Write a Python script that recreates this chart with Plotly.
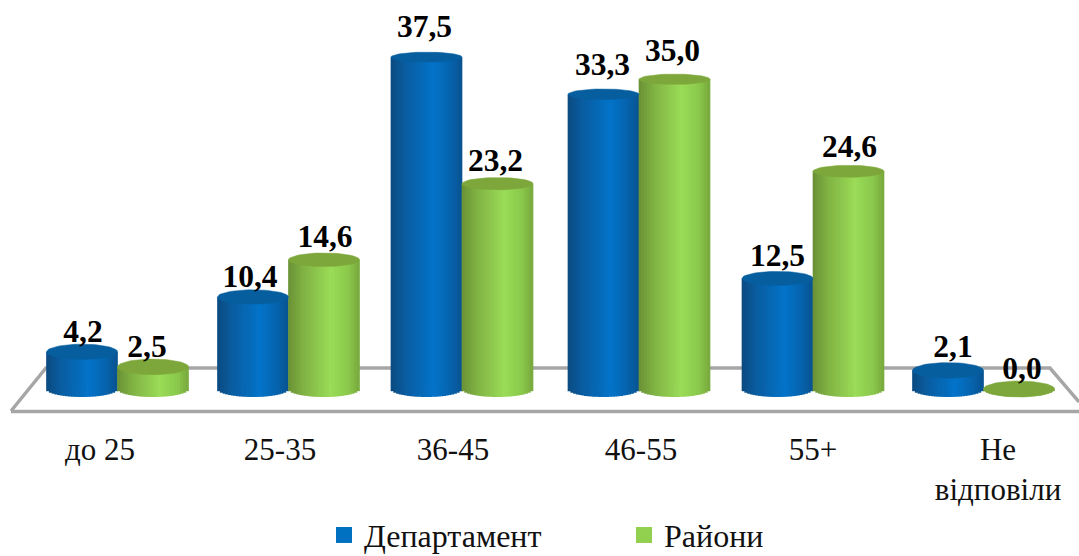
import math
import plotly.graph_objects as go

categories = ["до 25", "25-35", "36-45", "46-55", "55+", "Не<br>відповіли"]
dept_values = [4.2, 10.4, 37.5, 33.3, 12.5, 2.1]
rayon_values = [2.5, 14.6, 23.2, 35.0, 24.6, 0.0]
dept_labels = ["4,2", "10,4", "37,5", "33,3", "12,5", "2,1"]
rayon_labels = ["2,5", "14,6", "23,2", "35,0", "24,6", "0,0"]

W, H = 1079, 556
STEP = 173.4
X0 = 117.5
PX_PER_UNIT = 8.85
BASE_PX = 389
BAR_W = 71 / STEP
x_range = [-X0 / STEP, (W - X0) / STEP]
y_range = [(BASE_PX - H) / PX_PER_UNIT, BASE_PX / PX_PER_UNIT]
tick_positions = [(p - X0) / STEP for p in (100, 280, 453, 641, 813, 998)]
group_positions = [(p - X0) / STEP for p in (117.5, 288.5, 462, 639, 813, 983.5)]
dept_nudge = [-6, -5, 7, 6, -2, -2]
rayon_nudge = [-6, -2, -1, 5, 0, -6]
dept_xnudge = [1, -3, -2, -1, 0, 5]
rayon_xnudge = [-6, 1, -2, -2, 1, 3]

dept_stops = [(0, "#0B4A80"), (0.2, "#0A5C9F"), (0.6, "#0373C9"), (0.85, "#0663AC"), (1, "#0A5391")]
rayon_stops = [(0, "#6A9135"), (0.2, "#7FB042"), (0.6, "#9ADC57"), (0.85, "#8AC84B"), (1, "#78A83E")]
dept_cap = "#075E9E"
rayon_cap = "#7DA73A"


def mix(stops, t):
    for (a, ca), (b, cb) in zip(stops, stops[1:]):
        if t <= b:
            f = (t - a) / (b - a)
            rgb = [round(int(ca[i:i + 2], 16) * (1 - f) + int(cb[i:i + 2], 16) * f) for i in (1, 3, 5)]
            return "rgb(%d,%d,%d)" % tuple(rgb)
    return stops[-1][1]


def ry_units(v):
    return (8 - 0.08 * v) / PX_PER_UNIT


fig = go.Figure()
N = 26


def add_series(name, values, shift, stops, cap, base_color):
    xc = [p + shift for p in group_positions]
    fig.add_trace(go.Bar(x=xc, y=values, width=BAR_W * 0.98, name=name, marker_color=base_color,
                         showlegend=False, hoverinfo="skip"))
    sw = BAR_W / N
    for k in range(N):
        t = (k + 0.5) / N
        u = 2 * t - 1
        depth = 8 / PX_PER_UNIT * math.sqrt(max(0, 1 - u * u))
        fig.add_trace(go.Bar(
            x=[c + u * BAR_W / 2 for c in xc],
            y=[v + depth for v in values],
            base=[-depth] * len(values),
            width=sw * 1.25,
            marker=dict(color=mix(stops, t), line=dict(width=0)),
            showlegend=False, hoverinfo="skip"))
    for c, v in zip(xc, values):
        ang = [2 * math.pi * a / 60 for a in range(61)]
        fig.add_trace(go.Scatter(
            x=[c + BAR_W / 2 * math.cos(a) for a in ang],
            y=[v + ry_units(v) * math.sin(a) for a in ang],
            mode="lines", fill="toself", fillcolor=cap, line=dict(color=cap, width=0.5),
            showlegend=False, hoverinfo="skip"))
    return xc


dept_x = add_series("Департамент", dept_values, -BAR_W / 2, dept_stops, dept_cap, "#0070C0")
rayon_x = add_series("Райони", rayon_values, BAR_W / 2, rayon_stops, rayon_cap, "#92D050")

for xs, vals, labs, nudge, xnudge in ((dept_x, dept_values, dept_labels, dept_nudge, dept_xnudge),
                                      (rayon_x, rayon_values, rayon_labels, rayon_nudge, rayon_xnudge)):
    fig.add_trace(go.Scatter(
        x=[x + d / STEP for x, d in zip(xs, xnudge)],
        y=[v + ry_units(v) + n / PX_PER_UNIT for v, n in zip(vals, nudge)],
        text=labs, mode="text", textposition="top center",
        textfont=dict(family="Liberation Serif", size=31.5, color="#000000", weight="bold"),
        showlegend=False, hoverinfo="skip"))

fig.add_trace(go.Scatter(x=[None], y=[None], mode="markers", name="Департамент",
                         marker=dict(symbol="square", size=16, color="#0070C0")))
fig.add_trace(go.Scatter(x=[None], y=[None], mode="markers", name="Райони",
                         marker=dict(symbol="square", size=16, color="#92D050")))


def px(x, y):
    return "%.4f %.4f" % (x / W, 1 - y / H)


floor = "M " + px(11, 411) + " L " + px(46, 368) + " L " + px(1050, 368) + " L " + px(1079, 402)
front = "M " + px(11, 411.5) + " L " + px(1079, 411.5)
line_style = dict(color="#A6A6A6", width=3.5)
fig.update_layout(
    width=W, height=H, margin=dict(l=0, r=0, t=0, b=0, autoexpand=False), autosize=False,
    paper_bgcolor="white", plot_bgcolor="rgba(0,0,0,0)", barmode="overlay",
    font=dict(family="Liberation Serif", color="#000000"),
    xaxis=dict(range=x_range, tickmode="array", tickvals=tick_positions, ticktext=categories,
               showgrid=False, zeroline=False, showline=False, ticks="",
               tickfont=dict(family="Liberation Serif", size=31, color="#111111"),
               anchor="free", position=1 - 428 / H, automargin=False),
    yaxis=dict(range=y_range, visible=False, automargin=False),
    showlegend=True,
    legend=dict(orientation="h", x=324 / W, xanchor="left", y=-0.012, yanchor="bottom",
                entrywidth=255, entrywidthmode="pixels", itemsizing="trace",
                font=dict(family="Liberation Serif", size=32, color="#111111"),
                bgcolor="rgba(0,0,0,0)"),
    shapes=[dict(type="path", path=floor, xref="paper", yref="paper", line=line_style, layer="below"),
            dict(type="path", path=front, xref="paper", yref="paper", line=line_style, layer="below")],
)
fig.write_html("out.html", config={"displayModeBar": False},
               post_script="document.body.style.margin='0';document.body.style.overflow='hidden';")
